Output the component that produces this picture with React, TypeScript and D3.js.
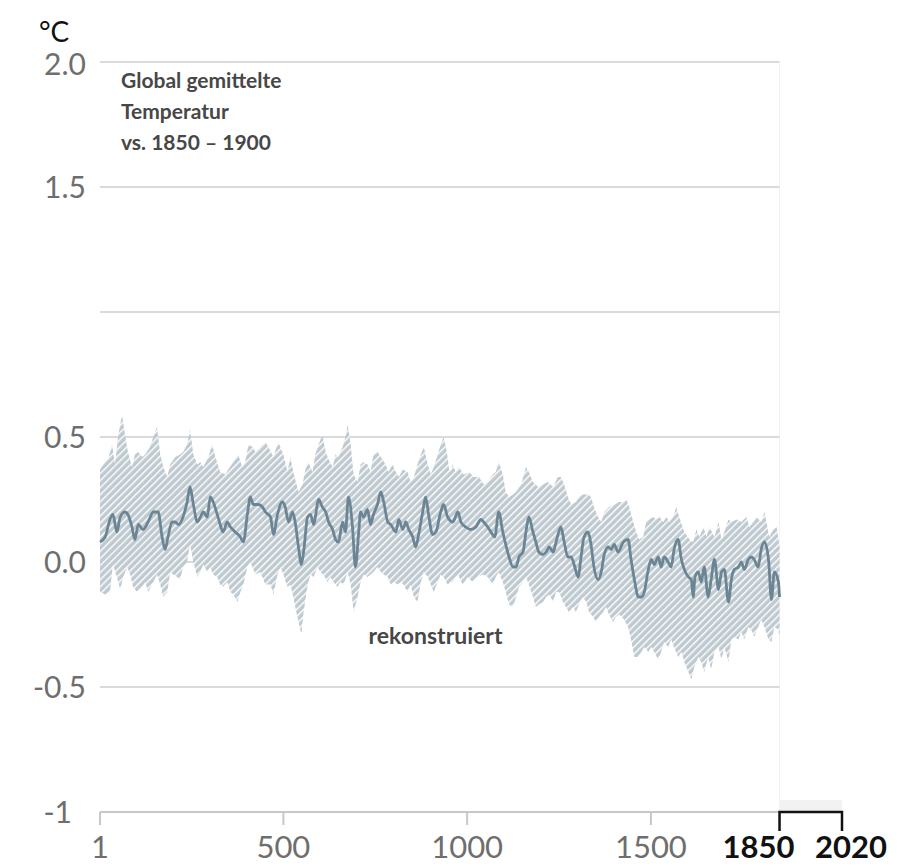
import { useEffect, useRef } from "react";
import * as d3 from "d3";

// reconstructed global mean temperature vs. 1850-1900 (°C)
const meanSeries: [number, number][] = [
  [1, 0.08], [15, 0.1], [28, 0.17], [36, 0.19], [47, 0.12], [56, 0.18], [69, 0.2], [77, 0.19], [88, 0.14], [96, 0.09],
  [105, 0.15], [118, 0.13], [132, 0.16], [146, 0.2], [159, 0.2], [170, 0.1], [178, 0.05], [186, 0.1], [197, 0.16], [206, 0.16],
  [214, 0.15], [227, 0.18], [238, 0.24], [246, 0.3], [255, 0.23], [266, 0.16], [274, 0.18], [282, 0.2], [293, 0.18], [301, 0.26],
  [309, 0.24], [320, 0.19], [328, 0.15], [336, 0.12], [347, 0.16], [356, 0.14], [369, 0.12], [383, 0.1], [391, 0.08], [402, 0.19],
  [410, 0.26], [418, 0.23], [432, 0.23], [443, 0.22], [451, 0.2], [465, 0.18], [473, 0.11], [484, 0.19], [497, 0.24], [505, 0.22],
  [514, 0.16], [525, 0.2], [533, 0.15], [541, 0.06], [549, -0.01], [555, 0.04], [566, 0.18], [574, 0.19], [582, 0.15], [596, 0.25],
  [606, 0.22], [615, 0.2], [623, 0.16], [634, 0.13], [642, 0.09], [650, 0.08], [661, 0.16], [669, 0.12], [677, 0.26], [688, 0.14],
  [696, -0.02], [705, 0.12], [710, 0.2], [718, 0.18], [729, 0.21], [737, 0.15], [745, 0.19], [756, 0.23], [765, 0.28], [773, 0.24],
  [784, 0.16], [792, 0.15], [806, 0.12], [814, 0.17], [825, 0.13], [833, 0.16], [841, 0.13], [852, 0.1], [860, 0.06], [868, 0.11],
  [879, 0.2], [887, 0.26], [895, 0.19], [906, 0.11], [915, 0.12], [928, 0.2], [936, 0.23], [947, 0.18], [961, 0.16], [975, 0.2],
  [983, 0.16], [996, 0.14], [1010, 0.13], [1024, 0.14], [1037, 0.17], [1045, 0.16], [1056, 0.14], [1065, 0.12], [1075, 0.1], [1086, 0.2],
  [1097, 0.12], [1105, 0.07], [1114, 0.02], [1125, -0.02], [1133, -0.02], [1141, 0.02], [1152, 0.04], [1160, 0.12], [1168, 0.18], [1179, 0.12],
  [1187, 0.08], [1195, 0.04], [1206, 0.03], [1215, 0.04], [1223, 0.06], [1234, 0.04], [1242, 0.08], [1255, 0.14], [1264, 0.08], [1274, 0.02],
  [1283, 0.02], [1291, -0.01], [1302, -0.06], [1310, 0.02], [1318, 0.1], [1329, 0.12], [1337, 0.07], [1345, -0.02], [1356, -0.07], [1365, -0.04],
  [1373, 0.03], [1384, 0.06], [1392, 0.05], [1400, 0.07], [1411, 0.04], [1425, 0.08], [1438, 0.09], [1446, 0.01], [1455, -0.07], [1466, -0.14],
  [1474, -0.14], [1482, -0.12], [1493, -0.03], [1501, 0.01], [1509, -0.01], [1520, 0.02], [1528, -0.02], [1536, 0.02], [1547, 0.0], [1555, -0.02],
  [1563, 0.05], [1574, 0.09], [1583, 0.01], [1591, -0.03], [1602, -0.06], [1610, -0.07], [1615, -0.14], [1620, -0.06], [1629, -0.04], [1637, -0.08],
  [1645, -0.02], [1656, -0.14], [1664, -0.07], [1673, 0.01], [1684, -0.11], [1692, -0.04], [1700, -0.03], [1711, -0.16], [1719, -0.07], [1727, -0.03],
  [1738, -0.02], [1746, 0.0], [1754, -0.03], [1765, 0.01], [1773, 0.02], [1781, 0.01], [1792, -0.02], [1800, 0.05], [1809, 0.08], [1820, 0.01],
  [1828, -0.15], [1836, -0.04], [1847, -0.08], [1850, -0.14],
];

// upper edge of the uncertainty range
const bandUpper: [number, number][] = [
  [1, 0.37], [15, 0.4], [23, 0.41], [34, 0.47], [42, 0.39], [50, 0.5], [61, 0.59], [69, 0.51], [77, 0.44], [88, 0.38],
  [96, 0.43], [105, 0.44], [116, 0.42], [124, 0.43], [137, 0.46], [146, 0.5], [156, 0.54], [165, 0.43], [173, 0.38], [184, 0.34],
  [192, 0.39], [206, 0.42], [219, 0.43], [227, 0.44], [238, 0.47], [246, 0.53], [255, 0.43], [266, 0.39], [274, 0.4], [282, 0.38],
  [296, 0.42], [306, 0.47], [315, 0.42], [328, 0.36], [342, 0.35], [350, 0.37], [364, 0.4], [377, 0.43], [388, 0.38], [396, 0.4],
  [405, 0.47], [416, 0.46], [424, 0.44], [437, 0.46], [451, 0.48], [459, 0.46], [473, 0.42], [486, 0.48], [500, 0.43], [511, 0.36],
  [519, 0.42], [527, 0.36], [541, 0.28], [552, 0.31], [560, 0.37], [568, 0.4], [579, 0.36], [587, 0.43], [596, 0.47], [606, 0.51],
  [615, 0.44], [623, 0.41], [634, 0.38], [642, 0.43], [650, 0.42], [661, 0.46], [669, 0.5], [675, 0.55], [683, 0.47], [691, 0.35],
  [702, 0.32], [710, 0.39], [718, 0.4], [729, 0.39], [737, 0.36], [745, 0.43], [756, 0.44], [765, 0.42], [778, 0.39], [786, 0.36],
  [797, 0.39], [806, 0.36], [814, 0.34], [825, 0.37], [838, 0.36], [846, 0.32], [855, 0.34], [865, 0.39], [874, 0.43], [882, 0.46],
  [893, 0.39], [901, 0.35], [909, 0.38], [920, 0.43], [928, 0.47], [936, 0.5], [945, 0.44], [952, 0.36], [961, 0.39], [969, 0.36],
  [977, 0.38], [991, 0.35], [1005, 0.36], [1018, 0.34], [1032, 0.34], [1045, 0.31], [1056, 0.32], [1070, 0.35], [1078, 0.36], [1086, 0.4],
  [1097, 0.35], [1105, 0.28], [1114, 0.26], [1125, 0.27], [1133, 0.28], [1147, 0.31], [1160, 0.38], [1168, 0.36], [1179, 0.32], [1193, 0.3],
  [1206, 0.31], [1220, 0.32], [1234, 0.3], [1247, 0.34], [1255, 0.34], [1264, 0.31], [1274, 0.26], [1283, 0.23], [1296, 0.24], [1304, 0.26],
  [1315, 0.27], [1329, 0.27], [1337, 0.26], [1345, 0.22], [1356, 0.18], [1365, 0.16], [1373, 0.2], [1386, 0.22], [1400, 0.23], [1414, 0.24],
  [1427, 0.24], [1433, 0.25], [1441, 0.22], [1452, 0.16], [1460, 0.12], [1468, 0.09], [1479, 0.1], [1487, 0.16], [1495, 0.17], [1506, 0.18],
  [1514, 0.17], [1523, 0.18], [1534, 0.16], [1542, 0.18], [1550, 0.16], [1561, 0.18], [1569, 0.22], [1577, 0.18], [1591, 0.12], [1605, 0.09],
  [1615, 0.08], [1624, 0.13], [1632, 0.1], [1643, 0.14], [1651, 0.1], [1659, 0.14], [1673, 0.1], [1684, 0.16], [1692, 0.09], [1700, 0.12],
  [1711, 0.17], [1719, 0.16], [1733, 0.17], [1746, 0.16], [1760, 0.18], [1768, 0.14], [1779, 0.16], [1787, 0.18], [1800, 0.16], [1809, 0.2],
  [1822, 0.1], [1833, 0.13], [1842, 0.14], [1850, 0.06],
];

// lower edge of the uncertainty range
const bandLower: [number, number][] = [
  [1, -0.12], [15, -0.13], [28, -0.12], [36, -0.01], [47, -0.06], [56, -0.11], [64, -0.06], [75, -0.02], [83, -0.05], [91, -0.1],
  [102, -0.12], [116, -0.1], [124, -0.08], [132, -0.12], [143, -0.09], [156, -0.05], [165, -0.09], [173, -0.14], [184, -0.12], [192, -0.04],
  [200, -0.05], [211, -0.06], [219, -0.07], [227, -0.02], [238, 0.0], [246, 0.07], [255, 0.0], [266, -0.06], [274, -0.04], [282, -0.01],
  [293, -0.04], [301, -0.02], [309, -0.05], [320, -0.06], [328, -0.09], [336, -0.1], [347, -0.08], [356, -0.12], [364, -0.13], [375, -0.16],
  [383, -0.12], [391, -0.09], [402, -0.02], [410, 0.0], [424, -0.05], [437, -0.04], [451, -0.09], [465, -0.09], [473, -0.13], [484, -0.05],
  [492, -0.02], [500, -0.05], [511, -0.1], [519, -0.09], [527, -0.14], [538, -0.22], [549, -0.29], [555, -0.2], [566, -0.09], [574, -0.05],
  [582, -0.06], [593, -0.02], [601, -0.04], [609, -0.05], [620, -0.08], [628, -0.06], [636, -0.08], [647, -0.1], [655, -0.08], [664, -0.09],
  [675, -0.04], [683, -0.09], [691, -0.2], [702, -0.14], [710, -0.08], [718, -0.05], [729, -0.06], [737, -0.05], [745, -0.04], [756, -0.02],
  [765, -0.04], [773, -0.05], [784, -0.06], [792, -0.09], [800, -0.08], [811, -0.09], [819, -0.08], [827, -0.09], [838, -0.12], [846, -0.09],
  [855, -0.14], [865, -0.16], [874, -0.08], [882, -0.04], [893, -0.06], [901, -0.09], [909, -0.12], [920, -0.08], [928, -0.05], [936, -0.06],
  [947, -0.09], [961, -0.08], [975, -0.05], [988, -0.09], [1002, -0.06], [1015, -0.08], [1029, -0.06], [1043, -0.05], [1056, -0.06], [1070, -0.09],
  [1078, -0.06], [1086, -0.04], [1097, -0.08], [1105, -0.12], [1114, -0.17], [1125, -0.18], [1133, -0.14], [1141, -0.1], [1152, -0.08], [1160, -0.06],
  [1168, -0.09], [1179, -0.14], [1187, -0.18], [1195, -0.17], [1206, -0.16], [1215, -0.14], [1223, -0.13], [1234, -0.16], [1242, -0.12], [1250, -0.12],
  [1261, -0.16], [1269, -0.18], [1277, -0.2], [1288, -0.18], [1296, -0.2], [1304, -0.17], [1315, -0.14], [1324, -0.16], [1332, -0.2], [1343, -0.22],
  [1351, -0.24], [1359, -0.22], [1370, -0.2], [1378, -0.18], [1386, -0.21], [1397, -0.24], [1405, -0.22], [1414, -0.21], [1427, -0.23], [1438, -0.26],
  [1446, -0.31], [1455, -0.38], [1466, -0.38], [1474, -0.36], [1482, -0.34], [1493, -0.36], [1501, -0.34], [1509, -0.36], [1520, -0.39], [1528, -0.36],
  [1536, -0.32], [1547, -0.34], [1555, -0.31], [1563, -0.34], [1574, -0.38], [1583, -0.36], [1591, -0.4], [1602, -0.44], [1610, -0.47], [1618, -0.42],
  [1629, -0.38], [1637, -0.4], [1645, -0.44], [1656, -0.38], [1664, -0.43], [1673, -0.36], [1684, -0.34], [1692, -0.39], [1700, -0.34], [1711, -0.4],
  [1719, -0.31], [1727, -0.3], [1738, -0.31], [1746, -0.28], [1754, -0.31], [1765, -0.26], [1773, -0.27], [1781, -0.3], [1792, -0.26], [1800, -0.23],
  [1809, -0.26], [1820, -0.31], [1828, -0.32], [1836, -0.26], [1847, -0.27], [1850, -0.31],
];

const gridValues = [2.0, 1.5, 1.0, 0.5, 0.0, -0.5];
const yTickValues = [2.0, 1.5, 0.5, 0.0, -0.5, -1];
const yTickLabels = ["2.0", "1.5", "0.5", "0.0", "-0.5", "-1"];
const xTickValues = [1, 500, 1000, 1500];
const recentSpan = [1850, 2020];
const titleLines = ["Global gemittelte", "Temperatur", "vs. 1850 – 1900"];

const App = () => {
  const svgRef = useRef<SVGSVGElement>(null);

  useEffect(() => {
    document.body.style.margin = "0";
    const svg = d3.select(svgRef.current);
    svg.selectAll("*").remove();

    const width = 897;
    const height = 866;
    svg.attr("width", width).attr("height", height);

    const x = d3.scaleLinear().domain([1, 2020]).range([100, 842]);
    const y = d3.scaleLinear().domain([-1, 2]).range([812, 62]);
    const x0 = x(1);
    const x1 = x(1850);
    const font = "Lato, sans-serif";

    // hatch pattern
    const defs = svg.append("defs");
    const pattern = defs
      .append("pattern")
      .attr("id", "hatch")
      .attr("patternUnits", "userSpaceOnUse")
      .attr("width", 5)
      .attr("height", 5)
      .attr("patternTransform", "rotate(45)");
    pattern.append("rect").attr("width", 5).attr("height", 5).attr("fill", "#bfc9d0");
    pattern
      .append("line")
      .attr("x1", 0.7)
      .attr("x2", 0.7)
      .attr("y1", 0)
      .attr("y2", 5)
      .attr("stroke", "#ffffff")
      .attr("stroke-width", 1.4);

    // grey strip + faint divider of the recent period
    svg
      .append("line")
      .attr("x1", x1)
      .attr("x2", x1)
      .attr("y1", y(2))
      .attr("y2", y(-1))
      .attr("stroke", "#f2f2f2")
      .attr("stroke-width", 1);
    svg
      .append("rect")
      .attr("x", x(recentSpan[0]))
      .attr("y", y(-1) - 12)
      .attr("width", x(recentSpan[1]) - x(recentSpan[0]))
      .attr("height", 12)
      .attr("fill", "#f2f2f2");

    // gridlines
    svg
      .append("g")
      .selectAll("line")
      .data(gridValues)
      .join("line")
      .attr("x1", x0)
      .attr("x2", x1)
      .attr("y1", (d) => y(d))
      .attr("y2", (d) => y(d))
      .attr("stroke", "#dadada")
      .attr("stroke-width", 2);

    // uncertainty band
    const pts = [...bandUpper, ...bandLower.slice().reverse()];
    const outline = d3
      .line<[number, number]>()
      .x((d) => x(d[0]))
      .y((d) => y(d[1]));
    svg
      .append("path")
      .attr("d", outline(pts) + "Z")
      .attr("fill", "url(#hatch)");

    // mean line
    const meanLine = d3
      .line<[number, number]>()
      .x((d) => x(d[0]))
      .y((d) => y(d[1]))
      .curve(d3.curveMonotoneX);
    svg
      .append("path")
      .datum(meanSeries)
      .attr("d", meanLine)
      .attr("fill", "none")
      .attr("stroke", "#6b8595")
      .attr("stroke-width", 2.8)
      .attr("stroke-linejoin", "round");

    // bottom axis
    const axis = svg.append("g");
    axis
      .append("line")
      .attr("x1", x0)
      .attr("x2", x1)
      .attr("y1", y(-1))
      .attr("y2", y(-1))
      .attr("stroke", "#c8c8c8")
      .attr("stroke-width", 2);
    axis
      .selectAll(".tick")
      .data(xTickValues)
      .join("line")
      .attr("x1", (d) => x(d))
      .attr("x2", (d) => x(d))
      .attr("y1", y(-1))
      .attr("y2", y(-1) + 13)
      .attr("stroke", "#c8c8c8")
      .attr("stroke-width", 2);
    axis
      .selectAll("text")
      .data(xTickValues)
      .join("text")
      .attr("x", (d) => x(d))
      .attr("y", 858)
      .attr("text-anchor", "middle")
      .style("font-family", font)
      .style("font-size", "31px")
      .style("fill", "#6e6e6e")
      .text((d) => String(d));

    // 1850–2020 bracket
    svg
      .append("path")
      .attr(
        "d",
        `M${x(recentSpan[0])},${y(-1) + 19}V${y(-1)}H${x(recentSpan[1])}V${y(-1) + 19}`
      )
      .attr("fill", "none")
      .attr("stroke", "#111")
      .attr("stroke-width", 2.5);
    svg
      .append("text")
      .attr("x", x(recentSpan[0]) + 15)
      .attr("y", 858)
      .attr("text-anchor", "end")
      .style("font-family", font)
      .style("font-size", "31px")
      .style("font-weight", 700)
      .style("fill", "#111")
      .text(String(recentSpan[0]));
    svg
      .append("text")
      .attr("x", x(recentSpan[1]) - 27)
      .attr("y", 858)
      .attr("text-anchor", "start")
      .style("font-family", font)
      .style("font-size", "31px")
      .style("font-weight", 700)
      .style("fill", "#111")
      .text(String(recentSpan[1]));

    // y labels
    svg
      .append("g")
      .selectAll("text")
      .data(yTickValues)
      .join("text")
      .attr("x", (d) => (d === -1 ? 72 : 86))
      .attr("y", (d) => y(d) + (d === 2 ? 13 : 11))
      .attr("text-anchor", "end")
      .style("font-family", font)
      .style("font-size", "30px")
      .style("fill", "#6e6e6e")
      .text((d, i) => yTickLabels[i]);

    svg
      .append("text")
      .attr("x", 39)
      .attr("y", 42)
      .style("font-family", font)
      .style("font-size", "28px")
      .style("fill", "#111")
      .text("°C");

    // title
    svg
      .append("g")
      .selectAll("text")
      .data(titleLines)
      .join("text")
      .attr("x", 121)
      .attr("y", (d, i) => 88 + i * 31)
      .style("font-family", font)
      .style("font-size", "21px")
      .style("font-weight", 700)
      .style("fill", "#474747")
      .text((d) => d);

    svg
      .append("text")
      .attr("x", x(914))
      .attr("y", 644)
      .attr("text-anchor", "middle")
      .style("font-family", font)
      .style("font-size", "23px")
      .style("font-weight", 700)
      .style("fill", "#474747")
      .text("rekonstruiert");
  }, []);

  return <svg ref={svgRef} style={{ display: "block" }} />;
};

export default App;
